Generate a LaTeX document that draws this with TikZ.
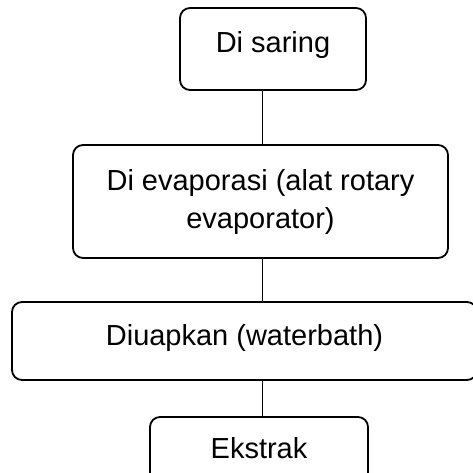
\documentclass[tikz,border=0pt]{standalone}
\usepackage{fontspec}
\setmainfont{Liberation Sans}
\usetikzlibrary{calc}

\begin{document}
\begin{tikzpicture}[x=1pt,y=-1pt,
	stepbox/.style={draw,line width=1.8pt,rounded corners=10pt,align=center,inner sep=0pt,
		font=\fontsize{29}{38}\selectfont},
	link/.style={line width=0.8pt}]
	
	\useasboundingbox (0,0) rectangle (473,472);
	\coordinate (axis) at (262,0);
	
	\node[stepbox,minimum width=186pt,minimum height=82pt,text height=20pt,text depth=14pt] (saring) at (273,49) {Di saring};
	\node[stepbox,minimum width=375pt,minimum height=113pt] (evap) at (260.5,201.5) {Di evaporasi (alat rotary\\evaporator)};
	\node[stepbox,minimum width=465pt,minimum height=78pt,text height=20pt,text depth=12pt] (uap) at (244.5,341) {Diuapkan (waterbath)};
	\node[stepbox,minimum width=218pt,minimum height=74pt,text height=20pt,text depth=12pt] (ekstrak) at (259,454) {Ekstrak};
	
	\draw[link] (saring.south -| axis) -- (evap.north -| axis);
	\draw[link] (evap.south -| axis) -- (uap.north -| axis);
	\draw[link] (uap.south -| axis) -- (ekstrak.north -| axis);
	
\end{tikzpicture}
\end{document}
